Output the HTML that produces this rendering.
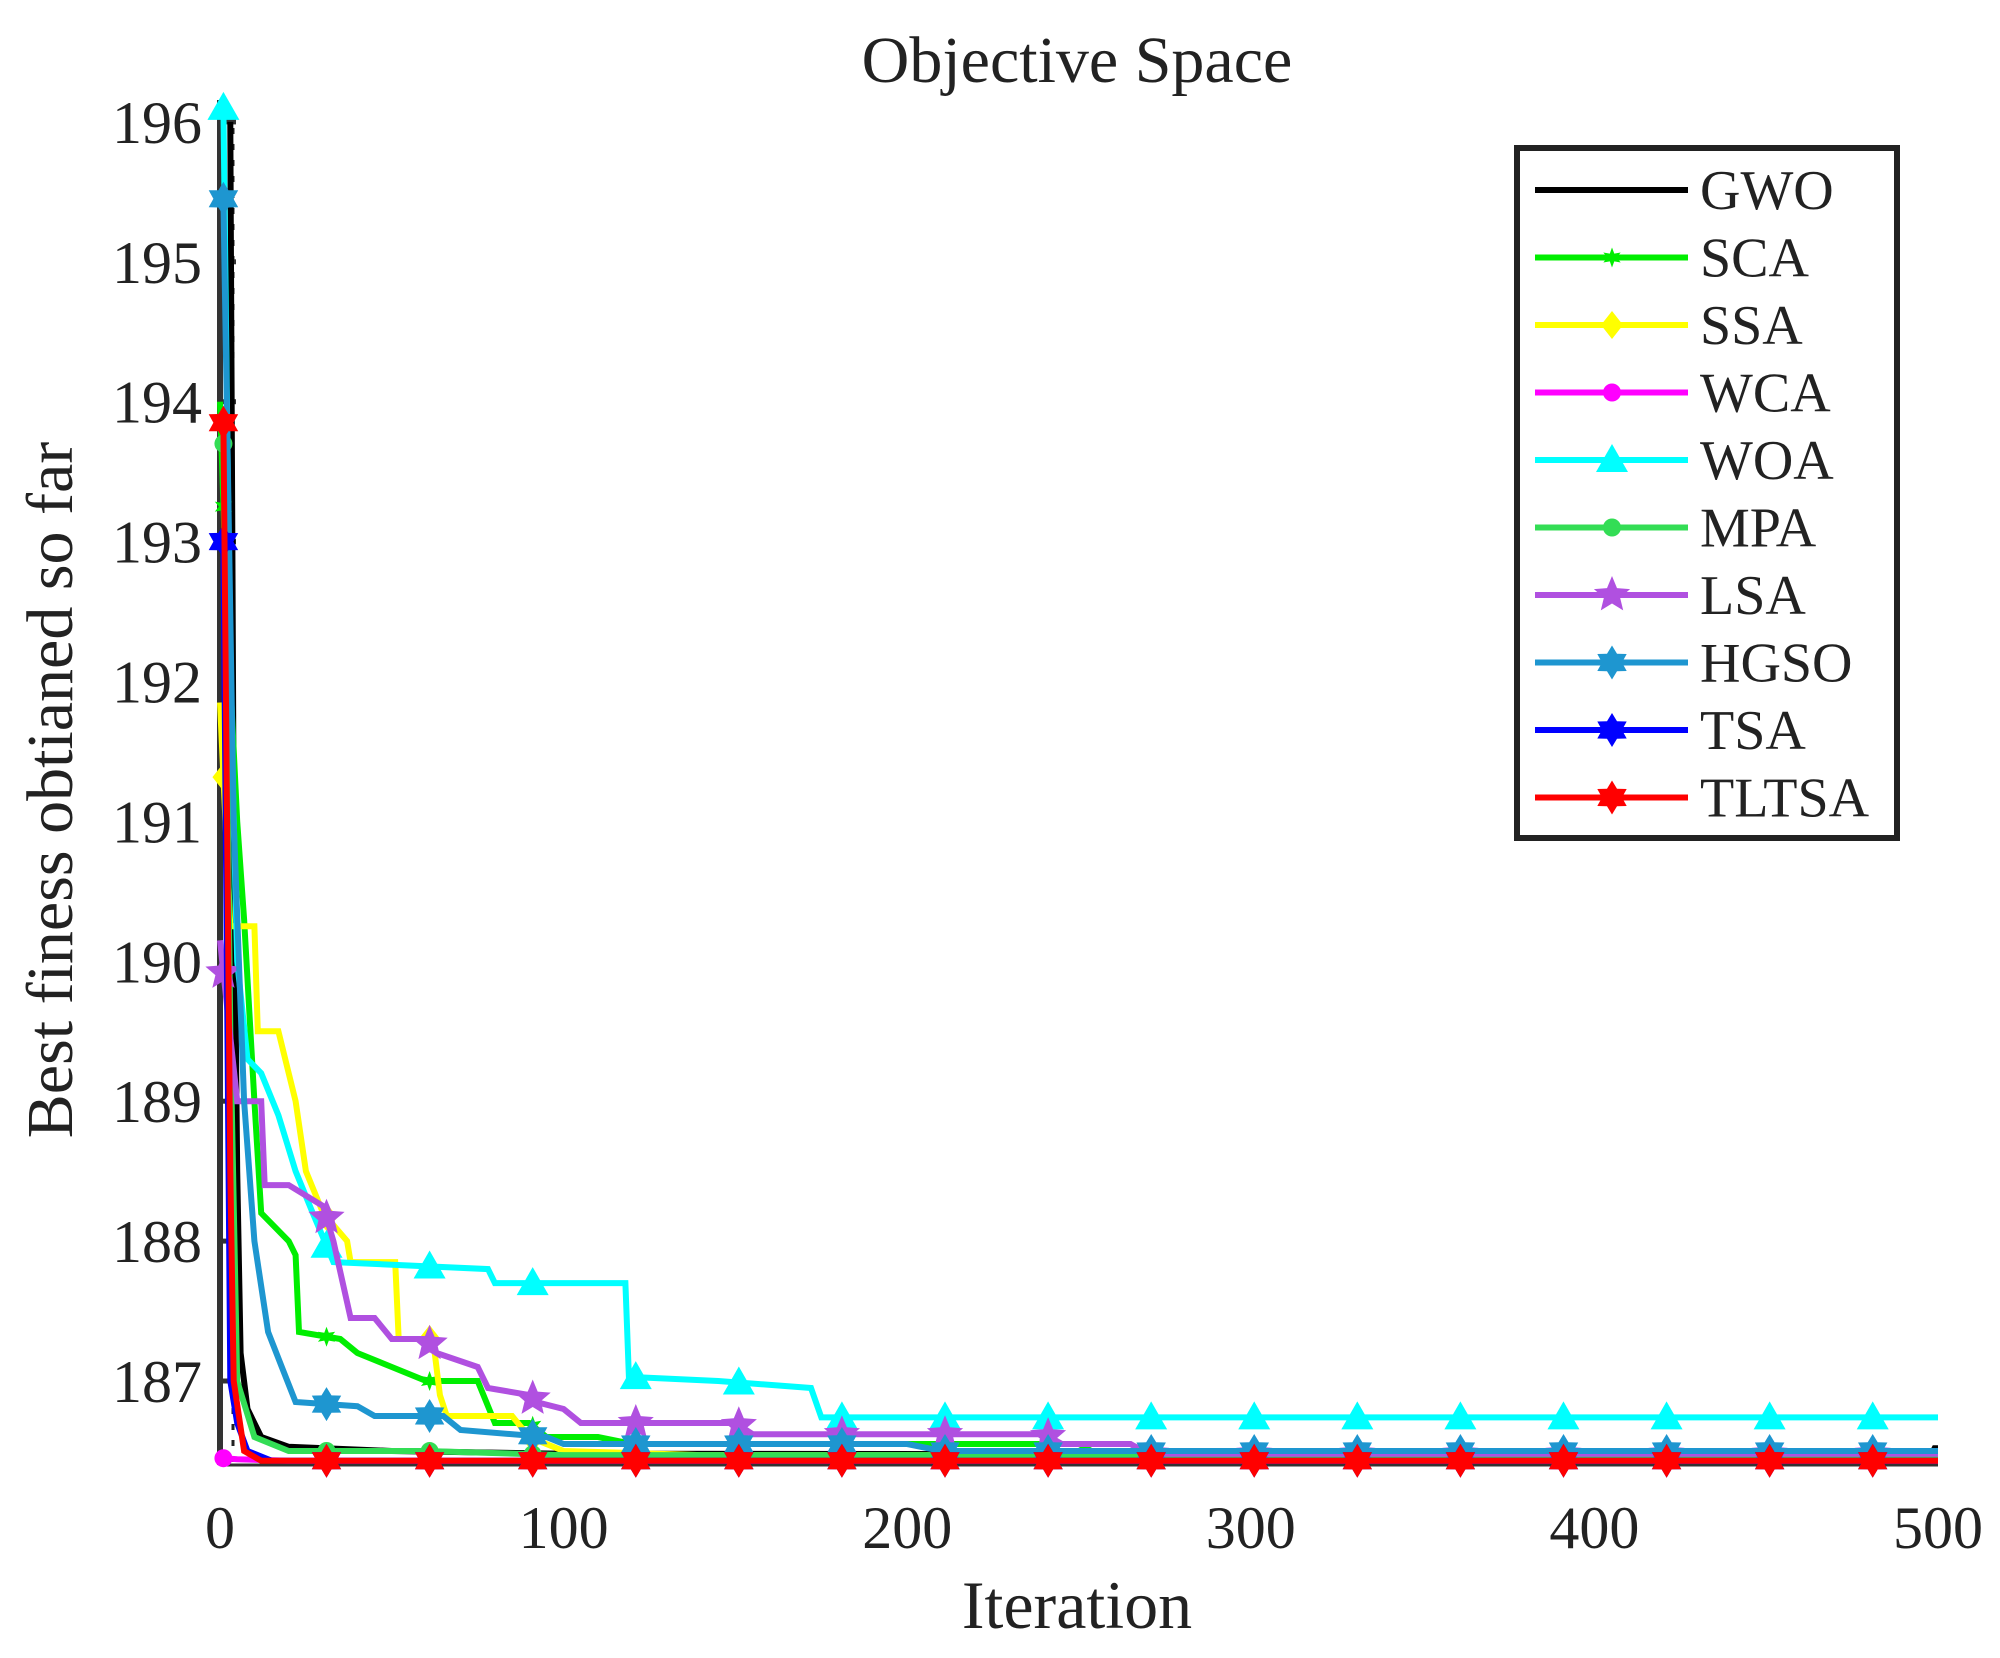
<!DOCTYPE html>
<html><head><meta charset="utf-8">
<style>
html,body{margin:0;padding:0;background:#fff;}
svg{display:block;}
text{font-family:"Liberation Serif",serif;fill:#222;}
</style></head>
<body>
<svg id="chart" width="2000" height="1658" viewBox="0 0 2000 1658" xmlns="http://www.w3.org/2000/svg">
<text x="1077" y="82" font-size="66" text-anchor="middle">Objective Space</text>
<text x="1077" y="1628" font-size="68" text-anchor="middle">Iteration</text>
<text transform="translate(72,790) rotate(-90)" font-size="66" text-anchor="middle">Best finess obtianed so far</text>
<g id="plot"></g>
<g id="legend"></g>
</svg>
<script>
const xTicks = [0,100,200,300,400,500];
const yTicks = [187,188,189,190,191,192,193,194,195,196];
const seriesNames = ["GWO","SCA","SSA","WCA","WOA","MPA","LSA","HGSO","TSA","TLTSA"];
const gwoIt = [3,4,5,6,8,12,20,50,100,498,499,500];
const gwoVal = [196,191,188.5,187.2,186.8,186.6,186.53,186.5,186.48,186.47,186.52,186.52];
const scaIt = [0,2,5,7,10,12,20,22,23,35,40,50,60,75,80,90,95,110,120,250,255,500];
const scaVal = [194,192.5,191,190.3,189,188.2,188.0,187.9,187.35,187.3,187.2,187.1,187.0,187.0,186.7,186.7,186.6,186.6,186.55,186.55,186.48,186.48];
const ssaIt = [0,3,10,11,17,20,22,25,30,37,38,51,52,62,64,66,85,90,100,140,500];
const ssaVal = [191.85,190.25,190.25,189.5,189.5,189.2,189.0,188.5,188.2,188.0,187.85,187.85,187.3,187.3,186.9,186.75,186.75,186.6,186.5,186.47,186.47];
const wcaIt = [0,5,20,500];
const wcaVal = [186.45,186.44,186.43,186.43];
const woaIt = [1,3,5,8,12,17,22,27,33,78,80,118,119,145,172,175,500];
const woaVal = [196.1,192,190,189.3,189.2,188.9,188.5,188.2,187.85,187.8,187.7,187.7,187.03,187.0,186.95,186.74,186.74];
const mpaIt = [1,3,5,10,20,60,100,500];
const mpaVal = [193.7,189.5,187,186.6,186.5,186.5,186.47,186.47];
const lsaIt = [0,5,12,13,20,30,33,38,45,50,60,63,75,78,90,92,100,105,150,155,240,245,265,270,500];
const lsaVal = [190.15,189.0,189.0,188.4,188.4,188.25,188.0,187.45,187.45,187.3,187.3,187.2,187.1,186.95,186.9,186.85,186.8,186.7,186.7,186.62,186.62,186.55,186.55,186.48,186.48];
const hgsoIt = [1,4,7,10,14,18,22,40,45,65,70,95,100,200,210,500];
const hgsoVal = [195.45,191,189,188,187.35,187.1,186.85,186.82,186.75,186.75,186.65,186.6,186.55,186.55,186.5,186.5];
const tsaIt = [1,3,5,8,15,500];
const tsaVal = [193,187,186.7,186.5,186.43,186.43];
const tltsaIt = [1,3,4,7,12,500];
const tltsaVal = [193.85,188.5,187,186.5,186.43,186.43];

const X0=220, X1=1938, XMAX=500, YMIN=186.4, YPER=139.9, Y187=1381;
function sx(v){return X0+(v/XMAX)*(X1-X0);}
function sy(v){return Y187-(v-187)*YPER;}
const YB=sy(YMIN);
const NS="http://www.w3.org/2000/svg";
function mk(tag,attrs,parent){const e=document.createElementNS(NS,tag);for(const k in attrs)e.setAttribute(k,attrs[k]);parent.appendChild(e);return e;}
const plot=document.getElementById('plot');
const legend=document.getElementById('legend');

let ax=mk('line',{x1:X0,y1:YB,x2:X0,y2:100,stroke:'#333','stroke-width':6},plot);


let bx=mk('line',{x1:X0,y1:YB,x2:X1,y2:YB,stroke:'#333','stroke-width':3},plot);


let dot=mk('line',{x1:233,y1:112,x2:233,y2:YB,stroke:'#222','stroke-width':3,'stroke-dasharray':'6 10'},plot);


for(const t of xTicks){
  const tx=mk('text',{x:sx(t),y:1548,'font-size':60,'text-anchor':'middle'},plot);
  tx.textContent=t;
  
  
}
for(const t of yTicks){
  const ty=mk('text',{x:202,y:sy(t)+21,'font-size':60,'text-anchor':'end'},plot);
  ty.textContent=t;
  
  
  const tk=mk('line',{x1:X0,y1:sy(t),x2:X0+16,y2:sy(t),stroke:'#333','stroke-width':5},plot);
  
  
}

const colors={GWO:'#000000',SCA:'#00ee00',SSA:'#ffff00',WCA:'#ff00ff',WOA:'#00ffff',MPA:'#33dd55',LSA:'#b050e0',HGSO:'#1e96d0',TSA:'#0000ff',TLTSA:'#ff0000'};
const markerType={GWO:'none',SCA:'star',SSA:'diamond',WCA:'circle',WOA:'triangle',MPA:'circle',LSA:'pentagram',HGSO:'hexagram',TSA:'hexagram',TLTSA:'hexagram'};
const dataIt={GWO:gwoIt,SCA:scaIt,SSA:ssaIt,WCA:wcaIt,WOA:woaIt,MPA:mpaIt,LSA:lsaIt,HGSO:hgsoIt,TSA:tsaIt,TLTSA:tltsaIt};
const dataVal={GWO:gwoVal,SCA:scaVal,SSA:ssaVal,WCA:wcaVal,WOA:woaVal,MPA:mpaVal,LSA:lsaVal,HGSO:hgsoVal,TSA:tsaVal,TLTSA:tltsaVal};

function valAt(its,vals,i){
  if(i<=its[0])return vals[0];
  for(let k=1;k<its.length;k++){if(i<=its[k]){const f=(i-its[k-1])/(its[k]-its[k-1]);return vals[k-1]+f*(vals[k]-vals[k-1]);}}
  return vals[vals.length-1];
}
function starPts(cx,cy,n,ro,ri){let p=[];for(let k=0;k<2*n;k++){const r=k%2?ri:ro;const a=-Math.PI/2+k*Math.PI/n;p.push((cx+r*Math.cos(a)).toFixed(1)+','+(cy+r*Math.sin(a)).toFixed(1));}return p.join(' ');}
function marker(type,cx,cy,color,parent,s){
  s=s||1;let e=null;
  if(type==='triangle')e=mk('polygon',{points:`${cx},${cy-16*s} ${cx-16*s},${cy+12*s} ${cx+16*s},${cy+12*s}`,fill:color},parent);
  else if(type==='diamond')e=mk('polygon',{points:`${cx},${cy-14*s} ${cx+11*s},${cy} ${cx},${cy+14*s} ${cx-11*s},${cy}`,fill:color},parent);
  else if(type==='circle')e=mk('circle',{cx:cx,cy:cy,r:9*s,fill:color},parent);
  else if(type==='star')e=mk('polygon',{points:starPts(cx,cy,6,10*s,4.5*s),fill:color},parent);
  else if(type==='pentagram')e=mk('polygon',{points:starPts(cx,cy,5,19*s,8.5*s),fill:color},parent);
  else if(type==='hexagram')e=mk('polygon',{points:starPts(cx,cy,6,17*s,10*s),fill:color},parent);
  return e;
}

for(const name of seriesNames){
  const its=dataIt[name], vals=dataVal[name], c=colors[name];
  const g=mk('g',{},plot);
  
  
  const pts=its.map((it,k)=>sx(it).toFixed(1)+','+sy(vals[k]).toFixed(1)).join(' ');
  const pl=mk('polyline',{points:pts,fill:'none',stroke:c,'stroke-width':6,'stroke-linejoin':'miter'},g);
  
  
  if(markerType[name]!=='none'){
    for(let i=1;i<=500;i+=30){
      if(i<its[0])continue;
      const m=marker(markerType[name],sx(i),sy(valAt(its,vals,i)),c,g);
      
      
    }
  }
}

const lb=mk('rect',{x:1517,y:148,width:380,height:690,fill:'#fff',stroke:'#222','stroke-width':6},legend);


seriesNames.forEach((name,k)=>{
  const y=190+k*67.5;
  const g=mk('g',{},legend);
  
  
  mk('line',{x1:1535,y1:y,x2:1688,y2:y,stroke:colors[name],'stroke-width':6},g);
  if(markerType[name]!=='none')marker(markerType[name],1612,y,colors[name],g);
  const t=mk('text',{x:1700,y:y+19,'font-size':56},g);
  t.textContent=name;
});
</script>
</body></html>
